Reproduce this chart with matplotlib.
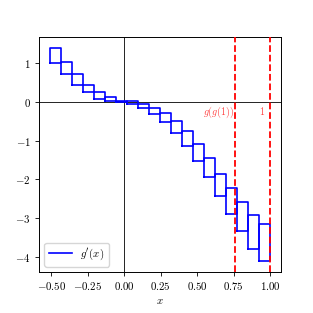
import numpy as np
import matplotlib
matplotlib.use("Agg")
import matplotlib.pyplot as plt
from matplotlib.ticker import FuncFormatter

plt.rcParams['mathtext.fontset'] = 'cm'
plt.rcParams['font.family'] = 'serif'
plt.rcParams['font.serif'] = ['DejaVu Serif']
plt.rcParams['font.size'] = 7.8

# interval boxes of g'(x): x edges, upper and lower bound per box
x_edges = np.linspace(-0.51, 1.0, 21)
box_hi = [1.39, 1.01, 0.71, 0.44, 0.24, 0.12, 0.03, 0.01, -0.06, -0.15,
          -0.29, -0.50, -0.76, -1.10, -1.44, -1.85, -2.21, -2.59, -2.93, -3.15]
box_lo = [1.00, 0.70, 0.44, 0.24, 0.08, 0.01, -0.01, -0.06, -0.16, -0.31,
          -0.52, -0.80, -1.14, -1.53, -1.95, -2.42, -2.89, -3.34, -3.79, -4.11]
gg1 = 0.762
one = 1.0

fig = plt.figure(figsize=(3.13, 3.13), dpi=100)
ax = fig.add_axes([39 / 313, 41 / 313, 242 / 313, 235 / 313])

ax.axhline(0, color='k', lw=0.6, zorder=1)
ax.axvline(0, color='k', lw=0.6, zorder=1)

for i in range(len(box_hi)):
    x0, x1 = x_edges[i], x_edges[i + 1]
    lo, hi = box_lo[i], box_hi[i]
    ax.plot([x0, x1, x1, x0, x0], [lo, lo, hi, hi, lo], color='b', lw=1.2,
            label="$g'(x)$" if i == 0 else None, zorder=2)

ax.axvline(gg1, color='r', ls='--', lw=1.3, zorder=3)
ax.axvline(one, color='r', ls='--', lw=1.3, zorder=3)
ax.text(gg1 - 0.01, -0.08, '$g(g(1))$', color='r', alpha=0.75, ha='right', va='top', fontsize=7.2)
ax.text(one - 0.035, -0.08, '$1$', color='r', alpha=0.75, ha='right', va='top', fontsize=7.2)

ax.set_xticks([-0.5, -0.25, 0, 0.25, 0.5, 0.75, 1.0])
ax.set_yticks([-4, -3, -2, -1, 0, 1])
ax.xaxis.set_major_formatter(FuncFormatter(lambda v, p: f'${v:.2f}$'))
ax.yaxis.set_major_formatter(FuncFormatter(lambda v, p: f'${v:.0f}$'))
ax.tick_params(length=3, width=0.6, labelsize=7.8, pad=3)
for s in ax.spines.values():
    s.set_linewidth(0.7)
ax.set_xlabel('$x$', labelpad=3)
ax.legend(loc='lower left', handlelength=2.1)

fig.savefig('out.png', dpi=100)
